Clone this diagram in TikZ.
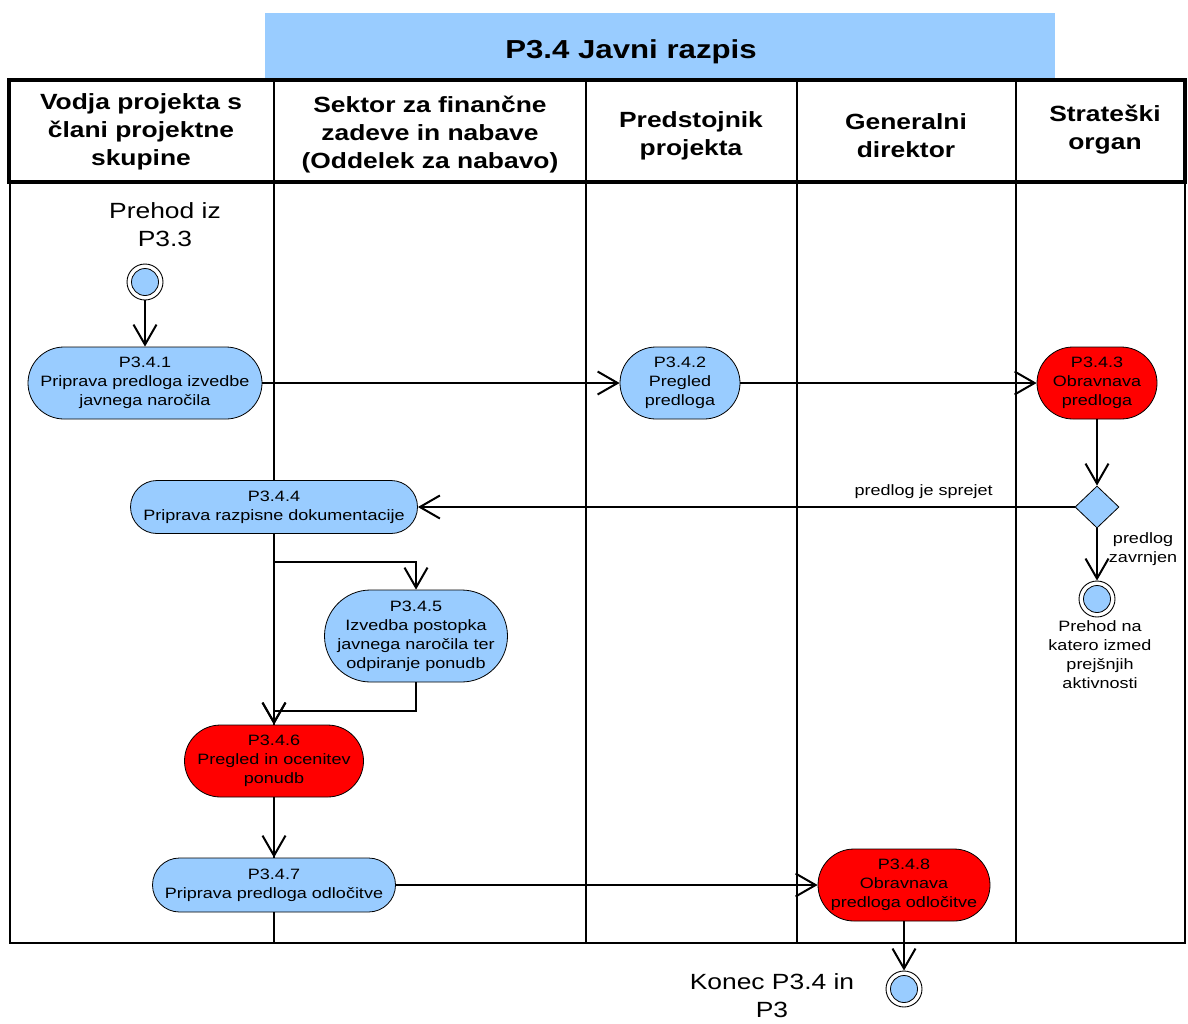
\documentclass[tikz,border=0pt]{standalone}
\usepackage{fontspec}
\setmainfont[FakeStretch=1.2]{Liberation Sans}
\usetikzlibrary{arrows.meta,shapes.geometric}
\definecolor{lblue}{HTML}{99CCFF}
\definecolor{actred}{HTML}{FF0000}
\begin{document}
\begin{tikzpicture}[x=1pt,y=-1pt,
  lane/.style={line width=1.8pt},
  act/.style={rectangle, draw=black, line width=0.8pt, fill=lblue, inner sep=0pt,
    align=center, font=\fontsize{15}{19}\selectfont},
  hot/.style={act, fill=actred},
  head/.style={align=center, font=\fontsize{22}{28}\selectfont\bfseries, inner sep=0pt},
  note/.style={align=center, font=\fontsize{15}{19}\selectfont, inner sep=0pt},
  big/.style={align=center, font=\fontsize{22}{28}\selectfont, inner sep=0pt},
  terminal/.style={circle, draw=black, line width=0.9pt, fill=white, minimum size=36pt, inner sep=0pt,
    path picture={\draw[line width=0.8pt, fill=lblue] (path picture bounding box.center) circle (13.5pt);}},
  choice/.style={diamond, draw=black, line width=0.8pt, fill=lblue, minimum width=44pt, minimum height=42pt, inner sep=0pt},
  flow/.style={line width=2pt, -{Straight Barb[length=20pt,width=23pt,line width=2pt]}},
  plain/.style={line width=2pt}
]
\useasboundingbox (0,0) rectangle (1188,1023);

% title bar
\fill[lblue] (265,13) rectangle (1055,80);
\node[font=\fontsize{26}{30}\selectfont\bfseries, inner sep=0pt] (title) at (631,52) {P3.4 Javni razpis};

% swimlane table
\draw[line width=1.5pt] (10,182) -- (10,943) -- (1185,943) -- (1185,182);
\foreach \x in {274,586,797,1016} \draw[lane] (\x,80) -- (\x,943);
\draw[line width=3.5pt] (9,80) rectangle (1185,182);

% lane headers
\node[head] (h1) at (141,132) {Vodja projekta s\\člani projektne\\skupine};
\node[head] (h2) at (430,135) {Sektor za finančne\\zadeve in nabave\\(Oddelek za nabavo)};
\node[head] (h3) at (691,136) {Predstojnik\\projekta};
\node[head] (h4) at (906,136) {Generalni\\direktor};
\node[head] (h5) at (1105,130) {Strateški\\organ};

% start
\node[big] (startlbl) at (165,225) {Prehod iz\\P3.3};
\node[terminal] (start) at (145,282) {};

% activities
\node[act, minimum width=234pt, minimum height=72pt, rounded corners=36pt] (p41) at (145,383)
  {P3.4.1\\Priprava predloga izvedbe\\javnega naročila};
\node[act, minimum width=120pt, minimum height=72pt, rounded corners=36pt] (p42) at (680,383)
  {P3.4.2\\Pregled\\predloga};
\node[hot, minimum width=120pt, minimum height=72pt, rounded corners=36pt] (p43) at (1097,383)
  {P3.4.3\\Obravnava\\predloga};
\node[choice] (dec) at (1097,507) {};
\node[act, minimum width=287pt, minimum height=53pt, rounded corners=26.5pt] (p44) at (274,507)
  {P3.4.4\\Priprava razpisne dokumentacije};
\node[act, minimum width=183pt, minimum height=92pt, rounded corners=46pt] (p45) at (416,636)
  {P3.4.5\\Izvedba postopka\\javnega naročila ter\\odpiranje ponudb};
\node[hot, minimum width=179pt, minimum height=72pt, rounded corners=36pt] (p46) at (274,761)
  {P3.4.6\\Pregled in ocenitev\\ponudb};
\node[act, minimum width=243pt, minimum height=54pt, rounded corners=27pt] (p47) at (274,885)
  {P3.4.7\\Priprava predloga odločitve};
\node[hot, minimum width=172pt, minimum height=72pt, rounded corners=36pt] (p48) at (904,885)
  {P3.4.8\\Obravnava\\predloga odločitve};

% ends
\node[terminal] (rej) at (1097,599) {};
\node[note] (rejlbl) at (1100,655) {Prehod na\\katero izmed\\prejšnjih\\aktivnosti};
\node[terminal] (fin) at (904,989) {};
\node[big] (finlbl) at (772,996) {Konec P3.4 in\\P3};

% flows
\draw[flow] (start) -- (p41);
\draw[flow] (p41.east) -- (p42.west);
\draw[flow] (p42.east) -- (p43.west);
\draw[flow] (p43.south) -- (dec.north);
\draw[flow] (dec.west) -- (p44.east) node[note, pos=0.23, above=7pt] (acc) {predlog je sprejet};
\draw[flow] (dec.south) -- (rej.north);
\node[note] (rejtxt) at (1143,549) {predlog\\zavrnjen};
\draw[flow] (p44.south) -- ++(0,28) -| (p45.north);
\draw[flow] (p44.south) -- (p46.north);
\draw[flow] (p45.south) |- ([yshift=14pt]p46.north) -- (p46.north);
\draw[flow] (p46.south) -- (p47.north);
\draw[plain] (p47.south) -- ++(0,31);
\draw[flow] (p47.east) -- (p48.west);
\draw[flow] (p48.south) -- (fin.north);
\end{tikzpicture}
\end{document}
